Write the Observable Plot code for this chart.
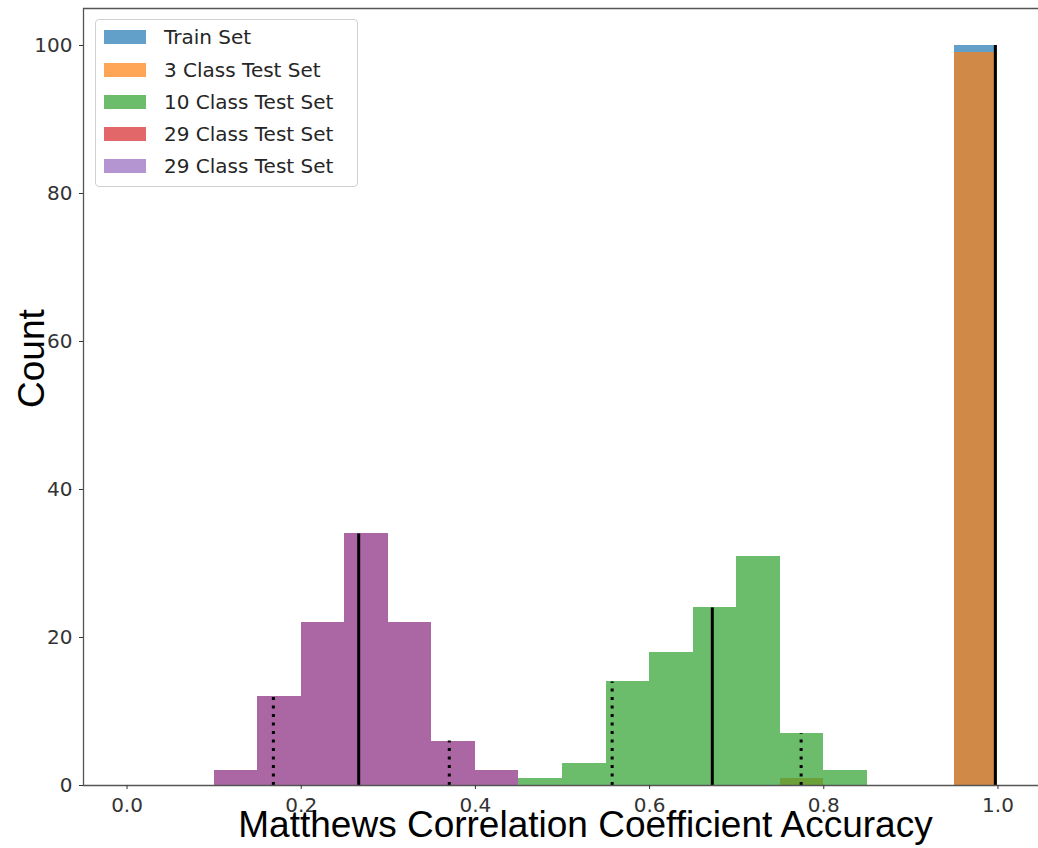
<!DOCTYPE html>
<html>
<head>
<meta charset="utf-8">
<script src="https://cdn.jsdelivr.net/npm/d3@7"></script>
<script src="https://cdn.jsdelivr.net/npm/@observablehq/plot@0.6"></script>
<style>
  html, body { margin: 0; padding: 0; background: #fff; overflow: hidden; }
  #wrap { position: relative; width: 1038px; height: 848px; overflow: hidden; }
  #wrap > svg { display: block; max-width: none !important; }
  #legend {
    position: absolute; left: 95px; top: 19px; width: 261px; height: 166px;
    border: 1px solid #d0d0d0; border-radius: 4px; background: rgba(255,255,255,0.8);
    font-family: "DejaVu Sans", sans-serif; font-size: 20px; color: #262626;
  }
  .item { position: absolute; left: 0; height: 20px; }
  .swatch { position: absolute; left: 8px; width: 42px; height: 14px; }
  .label { position: absolute; left: 68px; white-space: nowrap; line-height: 20px; top: -10px; }
</style>
</head>
<body>
<div id="wrap"></div>
<script>
// Histogram bins (bin width 0.05) for each evaluation set
const binWidth = 0.05;

const trainStarts = [0.95];
const trainCounts = [100];

const test3Starts = [0.75, 0.95];
const test3Counts = [1, 99];

const test10Starts = [0.45, 0.50, 0.55, 0.60, 0.65, 0.70, 0.75, 0.80];
const test10Counts = [1, 3, 14, 18, 24, 31, 7, 2];

const test29Starts = [0.10, 0.15, 0.20, 0.25, 0.30, 0.35, 0.40];
const test29Counts = [2, 12, 22, 34, 22, 6, 2];

// Series names in drawing order
const seriesNames = ["Train Set", "3 Class Test Set", "10 Class Test Set", "29 Class Test Set", "29 Class Test Set"];
const seriesStarts = [trainStarts, test3Starts, test10Starts, test29Starts, test29Starts];
const seriesCounts = [trainCounts, test3Counts, test10Counts, test29Counts, test29Counts];

// Mean markers (solid) and spread markers (dotted)
const meanX = [0.266, 0.672, 0.997];
const meanHeight = [34, 24, 100];
const spreadX = [0.168, 0.370, 0.557, 0.774];
const spreadHeight = [12, 6, 14, 7];

// Axis limits and ticks
const xLimits = [-0.05, 1.05];
const yLimits = [0, 105];
const xTicks = [0.0, 0.2, 0.4, 0.6, 0.8, 1.0];
const yTicks = [0, 20, 40, 60, 80, 100];

const palette = ["#1f77b4", "#ff7f0e", "#2ca02c", "#d62728", "#9467bd"];
const barOpacity = 0.7;

const bars = seriesNames.map((name, s) =>
  seriesStarts[s].map((x1, i) => ({series: s, name, x1, x2: x1 + binWidth, count: seriesCounts[s][i]}))
);
const means = meanX.map((x, i) => ({x, h: meanHeight[i]}));
const spreads = spreadX.map((x, i) => ({x, h: spreadHeight[i]}));

const spine = {stroke: "#555", strokeWidth: 1.3};

// The axes run a little past the right edge of the page, so only the
// left, bottom and top spines are in view.
const chart = Plot.plot({
  width: 1080,
  height: 848,
  marginLeft: 83,
  marginRight: 39,
  marginTop: 8,
  marginBottom: 63,
  style: {background: "white", overflow: "hidden"},
  x: {domain: xLimits},
  y: {domain: yLimits},
  marks: [
    ...bars.map((rows, s) => Plot.rectY(rows, {
      x1: "x1", x2: "x2", y: "count",
      fill: palette[s], fillOpacity: barOpacity, inset: 0, shapeRendering: "crispEdges"
    })),
    Plot.ruleX(means, {x: "x", y1: 0, y2: "h", stroke: "black", strokeWidth: 3}),
    Plot.ruleX(spreads, {x: "x", y1: 0, y2: "h", stroke: "black", strokeWidth: 3, strokeDasharray: "3 5.5"}),
    Plot.ruleX([xLimits[0]], spine),
    Plot.ruleY([yLimits[0]], spine),
    Plot.ruleY([yLimits[1]], spine),
    Plot.axisX({ticks: xTicks, tickFormat: d3.format(".1f"), tickSize: 4, tickPadding: 8,
      fontSize: 20, fontFamily: "DejaVu Sans", color: "#333", label: null}),
    Plot.axisY({ticks: yTicks, tickSize: 4, tickPadding: 7,
      fontSize: 20, fontFamily: "DejaVu Sans", color: "#333", label: null}),
    Plot.text(["Matthews Correlation Coefficient Accuracy"], {
      frameAnchor: "bottom", dx: 23, dy: 51, lineAnchor: "bottom",
      fontSize: 37, fontFamily: "Liberation Sans", fill: "black"
    }),
    Plot.text(["Count"], {
      frameAnchor: "left", dx: -40, dy: 11, rotate: -90, lineAnchor: "bottom",
      fontSize: 37, fontFamily: "Liberation Sans", fill: "black"
    })
  ]
});

const wrap = document.getElementById("wrap");
wrap.appendChild(chart);

// Legend box in the upper-left corner of the axes
const legend = document.createElement("div");
legend.id = "legend";
const rowCenters = [17, 50, 82, 114, 146];
seriesNames.forEach((name, i) => {
  const item = document.createElement("div");
  item.className = "item";
  item.style.top = rowCenters[i] + "px";
  const sw = document.createElement("div");
  sw.className = "swatch";
  sw.style.background = palette[i];
  sw.style.opacity = barOpacity;
  sw.style.top = "-7px";
  const lb = document.createElement("div");
  lb.className = "label";
  lb.textContent = name;
  item.appendChild(sw);
  item.appendChild(lb);
  legend.appendChild(item);
});
wrap.appendChild(legend);
</script>
</body>
</html>
